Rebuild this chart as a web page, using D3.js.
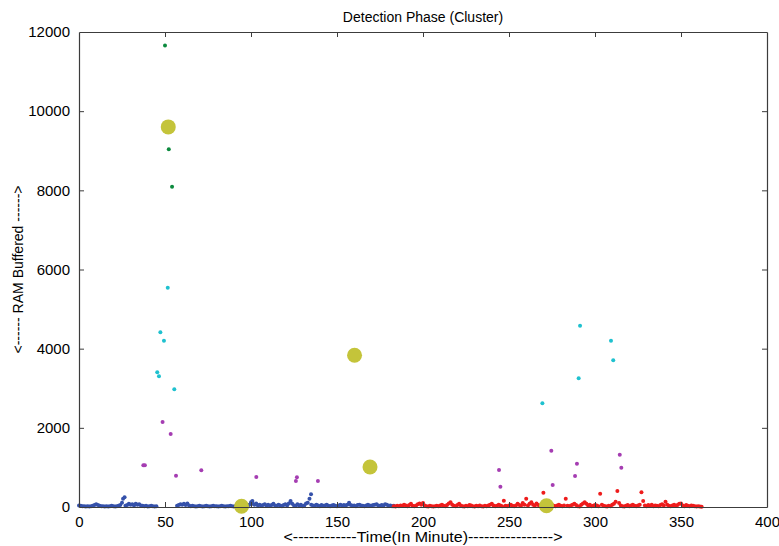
<!DOCTYPE html>
<html>
<head>
<meta charset="utf-8">
<script src="https://cdn.jsdelivr.net/npm/d3@7"></script>
<style>
  html, body { margin: 0; padding: 0; background: #ffffff; }
  svg { display: block; font-family: "Liberation Sans", Arial, sans-serif; }
</style>
</head>
<body>
<svg id="chart" width="779" height="546"></svg>
<script>
// ---------------- DATA ----------------
const chartTitle = "Detection Phase (Cluster)";
const xAxisLabel = "<------------Time(In Minute)---------------->";
const yAxisLabel = "<------ RAM Buffered ------>";
const xTicks = [0, 50, 100, 150, 200, 250, 300, 350, 400];
const yTicks = [0, 2000, 4000, 6000, 8000, 10000, 12000];

// Cluster 1 (blue) – low buffer usage, first half
const blueTime = [
  0,1,2,3,4,5,6,7,8,9,10,11,12,13,14,15,16,17,18,19,20,21,22,23,24,25,25.6,26.5,27,28,29,30,31,32,33,34,35,36,37,38,39,40,41,42,43,44,45,
  57,58,59,60,61,62,63,64,65,66,67,68,69,70,71,72,73,74,75,76,77,78,79,80,81,82,83,84,85,86,87,88,89,90,91,92,93,94,95,96,97,98,
  99,100,100.8,101,102,103,104,105,106,107,108,109,110,111,112,113,114,115,116,117,118,119,120,121,122,123,124,125,126,127,128,129,130,
  131,132,133,134,134.9,135,136,137,138,139,140,141,142,143,144,145,146,147,148,149,150,151,152,153,154,155,156,157,158,159,160,
  161,162,163,164,165,166,167,168,169,170,171,172,173,174,175,176,177,178,179,180,181,182,183
];
const blueRam = [
  40,30,20,20,10,20,10,20,30,50,70,50,30,20,20,10,20,10,20,30,20,10,20,30,50,110,210,245,30,50,80,60,70,40,80,60,70,40,30,20,30,10,20,30,20,10,20,
  30,50,70,60,80,50,90,40,20,30,20,10,20,30,20,10,20,30,20,10,20,30,20,20,10,20,30,20,10,20,20,30,20,10,20,30,20,10,20,10,30,20,
  60,120,152,80,60,90,40,60,30,50,70,40,60,30,50,80,40,30,60,40,20,50,70,40,90,152,80,40,30,70,40,60,20,
  40,90,110,210,320,60,40,30,60,40,20,50,30,40,60,30,20,40,50,30,20,40,60,30,50,40,60,109,50,30,40,
  20,50,60,40,30,20,40,60,40,30,50,60,70,40,30,50,40,70,60,30,40,20,30
];

// Cluster 2 (red) – low buffer usage, second half
const redTime = [
  183,184,185,186,187,188,189,190,191,192,193,194,195,196,197,198,199,200,201,202,
  203,204,205,206,207,208,209,210,211,212,213,214,215,216,217,218,219,220,221,222,
  223,224,225,226,227,228,229,230,231,232,233,234,235,236,237,238,239,240,241,242,
  243,244,245,246,247,248,249,250,251,252,253,254,255,256,257,258,259,260,261,262,
  263,264,265,266,267,268,269,270,271,272,273,274,275,276,277,278,279,280,281,282,
  283,284,285,286,287,288,289,290,291,292,293,294,295,296,297,298,299,300,301,302,
  303,304,305,306,307,308,309,310,311,312,313,314,315,316,317,318,319,320,321,322,
  323,324,325,326,327,328,329,330,331,332,333,334,335,336,337,338,339,340,341,342,
  343,344,345,346,347,348,349,350,351,352,353,354,355,356,357,358,359,360,361,362
];
const redRam = [
  20,10,30,20,40,30,60,40,20,50,80,30,20,40,70,90,60,100,40,20,
  10,30,20,10,20,30,20,40,60,30,20,50,90,120,60,30,20,50,80,40,
  20,10,30,20,50,40,20,10,30,20,40,20,10,30,20,40,60,80,40,20,
  30,60,40,20,159,30,20,40,60,30,20,40,80,50,30,100,60,210,40,80,
  120,60,30,90,50,30,60,361,80,60,40,20,50,30,20,40,60,30,20,40,
  210,30,20,40,60,80,50,20,10,60,90,120,80,40,60,20,30,50,40,20,
  336,60,30,20,10,30,20,60,80,134,404,100,40,20,10,30,50,20,40,60,
  30,20,40,60,371,152,40,20,50,30,60,20,40,30,20,50,70,40,134,60,
  30,20,40,60,30,50,80,90,40,20,50,30,20,40,30,20,10,20,10,5
];

// Cluster 3 (magenta) – moderate buffer usage
const magentaTime = [37.4, 38.3, 48.6, 53.3, 56.4, 71.1, 103.1, 126.7, 126.1, 138.9, 244.2, 245.0, 274.6, 275.4, 289.5, 288.4, 314.4, 315.3];
const magentaRam  = [1053, 1053, 2146, 1843, 790, 927, 757, 752, 660, 660, 934, 510, 1422, 556, 1093, 783, 1321, 992];

// Cluster 4 (cyan) – high buffer usage
const cyanTime = [45.5, 46.5, 47.3, 49.4, 51.6, 55.4, 269.4, 290.5, 291.3, 309.3, 310.6];
const cyanRam  = [3402, 3301, 4412, 4200, 5538, 2972, 2619, 3250, 4578, 4199, 3705];

// Cluster 5 (green) – very high buffer usage
const greenTime = [50.0, 52.2, 54.1];
const greenRam  = [11659, 9040, 8088];

// Cluster centroids (yellow)
const centroidTime = [51.9, 94.5, 160.2, 169.2, 271.8];
const centroidRam  = [9603, 20, 3834, 1010, 30];

const series = [
  { name: "blue",    time: blueTime,     ram: blueRam,     color: "#3551aa", r: 2.0 },
  { name: "red",     time: redTime,      ram: redRam,      color: "#ee1c1c", r: 2.0 },
  { name: "magenta", time: magentaTime,  ram: magentaRam,  color: "#a53db2", r: 2.0 },
  { name: "cyan",    time: cyanTime,     ram: cyanRam,     color: "#1fc1cf", r: 2.0 },
  { name: "green",   time: greenTime,    ram: greenRam,    color: "#0c8a3e", r: 2.0 },
  { name: "centroid",time: centroidTime, ram: centroidRam, color: "#c4c43a", r: 7.5 }
];

// ---------------- LAYOUT ----------------
const W = 779, H = 546;
const margin = { left: 79, right: W - 767, top: 32, bottom: H - 507 };
const svg = d3.select("#chart");
svg.append("rect").attr("width", W).attr("height", H).attr("fill", "#ffffff");

const x = d3.scaleLinear().domain([0, 400]).range([margin.left, W - margin.right]);
const y = d3.scaleLinear().domain([0, 12000]).range([H - margin.bottom, margin.top]);

const axisColor = "#3c3c3c";
const tickLen = 5;

// Points first, so frame stays visible on top
const plot = svg.append("g");
series.forEach(s => {
  const pts = s.time.map((t, i) => [t, s.ram[i]]);
  plot.append("g").selectAll("circle").data(pts).join("circle")
    .attr("cx", d => x(d[0]))
    .attr("cy", d => y(d[1]))
    .attr("r", s.r)
    .attr("fill", s.color);
});

const fmt = d3.format("d");
// Bottom axis (ticks inward)
const xb = svg.append("g").attr("transform", `translate(0,${y(0)})`)
  .call(d3.axisBottom(x).tickValues(xTicks).tickFormat(fmt).tickSizeInner(-tickLen).tickSizeOuter(0).tickPadding(9));
// Top axis
const xt = svg.append("g").attr("transform", `translate(0,${y(12000)})`)
  .call(d3.axisTop(x).tickValues(xTicks).tickSizeInner(-tickLen).tickSizeOuter(0).tickFormat(""));
// Left axis
const yl = svg.append("g").attr("transform", `translate(${x(0)},0)`)
  .call(d3.axisLeft(y).tickValues(yTicks).tickFormat(fmt).tickSizeInner(-tickLen).tickSizeOuter(0).tickPadding(9));
// Right axis
const yr = svg.append("g").attr("transform", `translate(${x(400)},0)`)
  .call(d3.axisRight(y).tickValues(yTicks).tickSizeInner(-tickLen).tickSizeOuter(0).tickFormat(""));

[xb, xt, yl, yr].forEach(g => {
  g.select(".domain").attr("stroke", axisColor).attr("stroke-width", 1.2);
  g.selectAll(".tick line").attr("stroke", axisColor).attr("stroke-width", 1);
  g.selectAll(".tick text").attr("fill", "#000").attr("font-size", 15)
    .attr("font-family", "'Liberation Sans', Arial, sans-serif");
});
// remove the tick marks at the corners (they coincide with frame)
xb.selectAll(".tick").filter(d => d === 0 || d === 400).select("line").remove();
xt.selectAll(".tick").filter(d => d === 0 || d === 400).select("line").remove();
yl.selectAll(".tick").filter(d => d === 0 || d === 12000).select("line").remove();
yr.selectAll(".tick").filter(d => d === 0 || d === 12000).select("line").remove();

// Title
svg.append("text")
  .attr("x", (x(0) + x(400)) / 2).attr("y", 22)
  .attr("text-anchor", "middle").attr("font-size", 14).attr("fill", "#000")
  .text(chartTitle);

// X axis label
svg.append("text")
  .attr("x", (x(0) + x(400)) / 2).attr("y", 542)
  .attr("text-anchor", "middle").attr("font-size", 14).attr("fill", "#000")
  .attr("textLength", 279).attr("lengthAdjust", "spacingAndGlyphs")
  .text(xAxisLabel);

// Y axis label
svg.append("text")
  .attr("transform", `translate(23,${(y(0) + y(12000)) / 2}) rotate(-90)`)
  .attr("text-anchor", "middle").attr("font-size", 14).attr("fill", "#000")
  .attr("textLength", 168).attr("lengthAdjust", "spacingAndGlyphs")
  .text(yAxisLabel);
</script>
</body>
</html>
